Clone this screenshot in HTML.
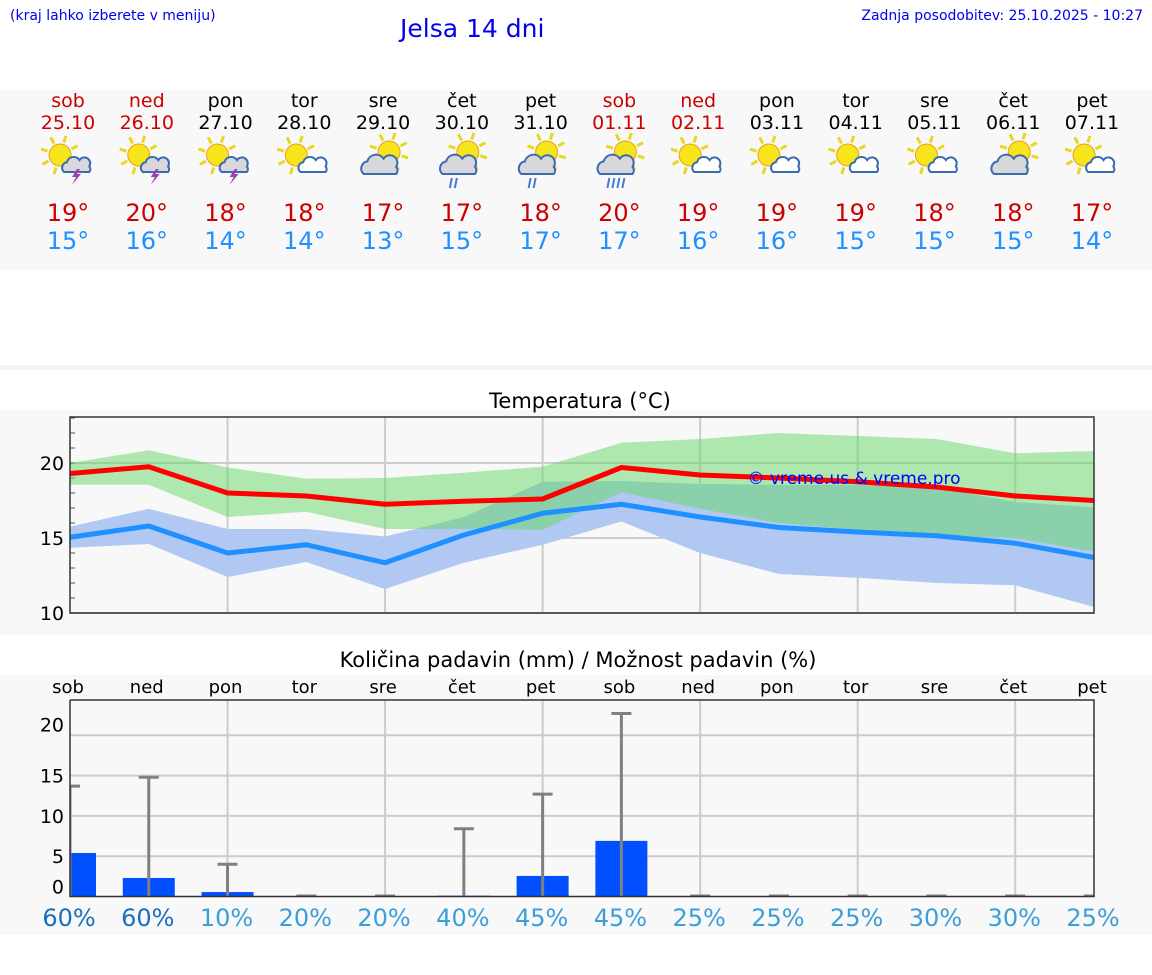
<!DOCTYPE html>
<html><head><meta charset="utf-8"><style>
body{margin:0;width:1152px;height:975px;background:#fff;font-family:"DejaVu Sans","Liberation Sans",sans-serif;overflow:hidden;position:relative}
.a{position:absolute}
</style></head><body>
<div class="a" style="left:10px;top:8px;font-size:14px;color:#0000ee">(kraj lahko izberete v meniju)</div>
<div class="a" style="left:400px;top:14px;font-size:25px;color:#0000ee">Jelsa 14 dni</div>
<div class="a" style="right:9px;top:8px;font-size:14px;color:#0000ee">Zadnja posodobitev: 25.10.2025 - 10:27</div>
<svg class="a" style="left:0;top:0" width="1152" height="975" id="s"></svg>
<script>
const days=["sob","ned","pon","tor","sre","čet","pet","sob","ned","pon","tor","sre","čet","pet"];
const dates=["25.10","26.10","27.10","28.10","29.10","30.10","31.10","01.11","02.11","03.11","04.11","05.11","06.11","07.11"];
const weekend=[1,1,0,0,0,0,0,1,1,0,0,0,0,0];
const icons=["storm","storm","storm","suncloud","cloudsun","rain","rain","rain2","suncloud","suncloud","suncloud","suncloud","cloudsun","suncloud"];
const hiLabels=[19,20,18,18,17,17,18,20,19,19,19,18,18,17];
const loLabels=[15,16,14,14,13,15,17,17,16,16,15,15,15,14];
const maxLine=[19.3,19.75,18.0,17.8,17.25,17.45,17.6,19.7,19.2,19.0,18.75,18.4,17.8,17.5];
const maxUp=[20.0,20.85,19.7,18.95,19.0,19.35,19.75,21.35,21.6,22.0,21.8,21.6,20.65,20.8];
const maxLo=[18.55,18.55,16.4,16.75,15.6,15.6,15.55,18.05,16.95,16.0,15.55,15.15,15.0,14.1];
const minLine=[15.05,15.8,14.0,14.55,13.35,15.2,16.65,17.25,16.4,15.7,15.4,15.15,14.65,13.7];
const minUp=[15.75,16.95,15.6,15.6,15.1,16.4,18.75,18.8,18.6,18.55,18.55,18.35,17.4,17.05];
const minLo=[14.35,14.6,12.4,13.4,11.6,13.35,14.55,16.1,14.0,12.6,12.35,12.0,11.85,10.4];
const rain=[5.4,2.3,0.55,0,0,0.1,2.55,6.9,0,0,0,0,0,0];
const rainMax=[13.7,14.8,4.0,0,0,8.4,12.7,22.7,0,0,0,0,0,0];
const chance=[60,60,10,20,20,40,45,45,25,25,25,30,30,25];
const tempTicks=[10,15,20];
const rainTicks=[0,5,10,15,20];

const S=document.getElementById('s'),NS="http://www.w3.org/2000/svg";
function el(t,a,p){const e=document.createElementNS(NS,t);for(const k in a)e.setAttribute(k,a[k]);(p||S).appendChild(e);return e;}
function tx(x,y,s,o){const e=el('text',Object.assign({x:x,y:y,'text-anchor':'middle','font-family':'DejaVu Sans, Liberation Sans, sans-serif'},o));e.textContent=s;return e;}
const X=i=>70+i*(1024/13);
el('rect',{x:0,y:90,width:1152,height:180,fill:'#f8f8f8'});
el('rect',{x:0,y:365,width:1152,height:5,fill:'#f4f4f4'});
el('rect',{x:0,y:410,width:1152,height:225,fill:'#f8f8f8'});
el('rect',{x:0,y:675,width:1152,height:260,fill:'#f8f8f8'});
function icon(type,cx,cy){
  const g=el('g',{});
  
  
  const back=type==='cloudsun'||type==='rain'||type==='rain2';
  const sx=back?cx+6:cx-8, sy=back?cy-8:cy-5;
  for(let k=0;k<8;k++){const an=k*Math.PI/4+0.3;el('line',{x1:sx+Math.cos(an)*13,y1:sy+Math.sin(an)*13,x2:sx+Math.cos(an)*20,y2:sy+Math.sin(an)*20,stroke:'#e8d820','stroke-width':3},g);}
  el('circle',{cx:sx,cy:sy,r:11,fill:'#f5e51a',stroke:'#e8a020','stroke-width':1},g);
  let ccx=cx+8,ccy=cy+5,big=false;
  if(back){ccx=cx-4;ccy=cy+5;big=true;}
  const fill=type==='suncloud'?'#fff':'#d8d8dc';
  const r=big?9:7;
  el('path',{d:`M${ccx-r*1.7},${ccy+r} a${r*0.8},${r*0.8} 0 0 1 ${r*0.4},-${r*1.4} a${r},${r} 0 0 1 ${r*1.8},-${r*0.3} a${r*0.8},${r*0.8} 0 0 1 ${r*1.4},${r*0.9} a${r*0.6},${r*0.6} 0 0 1 0,${r*0.8} z`,fill:fill,stroke:'#3a6ab0','stroke-width':2},g);
  if(type==='storm')el('path',{d:`M${ccx+1},${ccy+4} l-5,8 h4 l-4,8 l9,-11 h-4 l3,-5 z`,fill:'#a040b0'},g);
  if(type==='rain'||type==='rain2'){const n=type==='rain2'?4:2;for(let k=0;k<n;k++)el('line',{x1:ccx-6+k*5,y1:ccy+13,x2:ccx-8+k*5,y2:ccy+23,stroke:'#4a7ad0','stroke-width':2},g);}
}
for(let i=0;i<14;i++){
  const x=X(i)-2;
  const c=weekend[i]?'#cc0000':'#000';
  let t=tx(x,107,days[i],{'font-size':19,fill:c});
  t=tx(x,129,dates[i],{'font-size':19,fill:c});
  icon(icons[i],x,160);
  t=tx(x,221,hiLabels[i]+'°',{'font-size':24,fill:'#cc0000'});
  t=tx(x,249,loLabels[i]+'°',{'font-size':24,fill:'#1e90ff'});
}
const tT=417,tB=613,tL=70,tR=1094;
const TY=v=>613-(v-10)*15;
let t=tx(580,408,'Temperatura (°C)',{'font-size':21,fill:'#000'});
el('rect',{x:tL,y:tT,width:tR-tL,height:tB-tT,fill:'#f8f8f8'});
for(let i=2;i<13;i+=2)el('line',{x1:X(i),x2:X(i),y1:tT,y2:tB,stroke:'#ccc','stroke-width':2});
tempTicks.forEach(v=>{el('line',{x1:tL,x2:tR,y1:TY(v),y2:TY(v),stroke:'#ccc','stroke-width':2});
  const l=tx(52,TY(v)+7,String(v),{'font-size':19,fill:'#000'});});
for(let v=10;v<=23;v++)el('line',{x1:tL,x2:tL+5,y1:TY(v),y2:TY(v),stroke:'#555','stroke-width':1});
function band(up,lo,fill,name){let d='M'+up.map((v,i)=>X(i)+','+TY(v)).join(' L')+' L'+lo.map((v,i)=>X(i)+','+TY(v)).reverse().join(' L')+'Z';
  const p=el('path',{d:d,fill:fill});}
band(minUp,minLo,'#b0c8f2','min-temp-band');
band(maxUp,maxLo,'rgba(100,215,100,0.5)','max-temp-band');
function line(a,c,name){const p=el('polyline',{points:a.map((v,i)=>X(i)+','+TY(v)).join(' '),fill:'none',stroke:c,'stroke-width':5,'stroke-linejoin':'round'});}
line(maxLine,'#ff0000','max-temp-line');line(minLine,'#1e90ff','min-temp-line');
t=tx(854,484,'© vreme.us & vreme.pro',{'font-size':17,fill:'#0000ff'});
el('rect',{x:tL,y:tT,width:tR-tL,height:tB-tT,fill:'none',stroke:'#333','stroke-width':1.5});
const pT=700,pB=896.5,pL=70,pR=1094;
const PY=v=>pB-v*8.06;
t=tx(578,667,'Količina padavin (mm) / Možnost padavin (%)',{'font-size':21,fill:'#000'});
for(let i=0;i<14;i++){const l=tx(X(i)-2,693,days[i],{'font-size':18,fill:'#000'});}
el('rect',{x:pL,y:pT,width:pR-pL,height:pB-pT,fill:'#f8f8f8'});
for(let i=2;i<13;i+=2)el('line',{x1:X(i),x2:X(i),y1:pT,y2:pB,stroke:'#ccc','stroke-width':2});
rainTicks.forEach(v=>{if(v>0)el('line',{x1:pL,x2:pR,y1:PY(v),y2:PY(v),stroke:'#ccc','stroke-width':2});
  const cy=PY(v)+(v===0?-10:v===20?-11:0);
  const l=el('text',{x:64,y:cy+7,'text-anchor':'end','font-size':19,fill:'#000','font-family':'DejaVu Sans, sans-serif'});l.textContent=v;
  });
const cp=el('clipPath',{id:'pc'});
el('rect',{x:pL,y:pT-10,width:pR-pL,height:pB-pT+10},cp);
const g=el('g',{'clip-path':'url(#pc)'});
for(let i=0;i<14;i++){
  if(rain[i]>0){const b=el('rect',{x:X(i)-26,y:PY(rain[i]),width:52,height:pB-PY(rain[i]),fill:'#0050ff'},g);}
  if(rainMax[i]>0){el('line',{x1:X(i),x2:X(i),y1:PY(rainMax[i]),y2:pB,stroke:'#808080','stroke-width':3},g);
    const c=el('line',{x1:X(i)-10,x2:X(i)+10,y1:PY(rainMax[i]),y2:PY(rainMax[i]),stroke:'#808080','stroke-width':3},g);}
  else el('line',{x1:X(i)-10,x2:X(i)+10,y1:pB-1,y2:pB-1,stroke:'#808080','stroke-width':2},g);
  const l=tx(X(i)-1,926,chance[i]+'%',{'font-size':24,fill:chance[i]>=60?'#1a6fc0':'#3a9fd8'});
}
el('polyline',{points:`${pL},${pT} ${pR},${pT} ${pR},${pB} ${pL},${pB} ${pL},${pT}`,fill:'none',stroke:'#333','stroke-width':1.5});
</script>
</body></html>
